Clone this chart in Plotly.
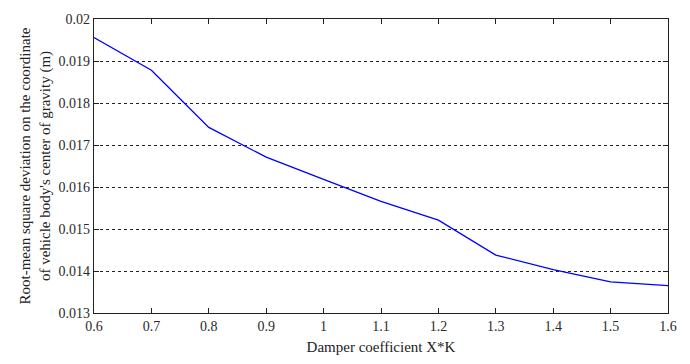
import plotly.graph_objects as go

x_vals = [0.6, 0.7, 0.8, 0.9, 1.0, 1.1, 1.2, 1.3, 1.4, 1.5, 1.6]
rms_vals = [0.01956, 0.01878, 0.01742, 0.01671, 0.01618, 0.01566, 0.01521, 0.01438, 0.01403, 0.01374, 0.01365]
x_ticks = [0.6, 0.7, 0.8, 0.9, 1.0, 1.1, 1.2, 1.3, 1.4, 1.5, 1.6]
x_ticktext = ["0.6", "0.7", "0.8", "0.9", "1", "1.1", "1.2", "1.3", "1.4", "1.5", "1.6"]
y_ticks = [0.013, 0.014, 0.015, 0.016, 0.017, 0.018, 0.019, 0.02]
y_ticktext = ["0.013", "0.014", "0.015", "0.016", "0.017", "0.018", "0.019", "0.02"]

FAM = "Liberation Serif, Times New Roman, serif"
fig = go.Figure()
fig.add_trace(go.Scatter(x=x_vals, y=rms_vals, mode="lines",
                         line=dict(color="#0000ff", width=1.3), showlegend=False))

fig.update_layout(
    width=690, height=364,
    margin=dict(l=94, r=22, t=13, b=47),
    paper_bgcolor="white", plot_bgcolor="white",
    font=dict(family=FAM, size=14, color="#222222"),
    xaxis=dict(range=[0.6, 1.6], tickvals=x_ticks, ticktext=x_ticktext,
               showgrid=False, zeroline=False, showline=True, linecolor="#222222",
               linewidth=1.2, mirror="ticks", ticks="inside", ticklen=5,
               tickcolor="#222222", tickfont=dict(family=FAM, size=14, color="#2a2a2a"),
               title=dict(text="Damper coefficient X*K", standoff=8,
                          font=dict(family=FAM, size=15, color="#222222"))),
    yaxis=dict(range=[0.013, 0.02], tickvals=y_ticks, ticktext=y_ticktext,
               showgrid=True, gridcolor="#222222", griddash="3px,3px", gridwidth=1,
               zeroline=False, showline=True, linecolor="#222222",
               linewidth=1.2, mirror="ticks", ticks="inside", ticklen=5,
               tickcolor="#222222", tickfont=dict(family=FAM, size=14, color="#2a2a2a"),
               title=dict(text="Root-mean square deviation on the coordinate<br>of vehicle body's center of gravity (m)",
                          standoff=4,
                          font=dict(family=FAM, size=15, color="#222222"))),
)
fig.write_html("out.html")
